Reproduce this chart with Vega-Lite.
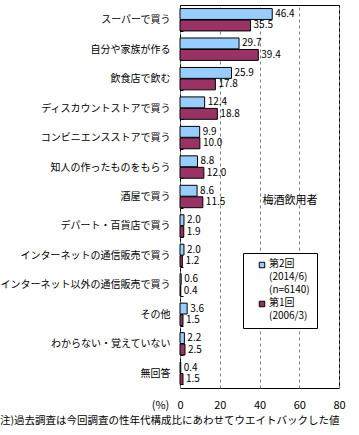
{
  "$schema": "https://vega.github.io/schema/vega-lite/v6.json",
  "width": 159,
  "height": 383,
  "autosize": {"type": "none"},
  "padding": {"left": 180, "top": 5, "right": 20, "bottom": 47},
  "config": {
    "font": "Noto Sans CJK JP",
    "view": {"stroke": "black", "strokeWidth": 1},
    "axis": {"labelColor": "black", "titleColor": "black"}
  },
  "title": {
    "text": "注)過去調査は今回調査の性年代構成比にあわせてウエイトバックした値",
    "orient": "bottom",
    "anchor": "start",
    "frame": "bounds",
    "fontSize": 10.5,
    "fontWeight": "normal",
    "offset": 6,
    "color": "black"
  },
  "encoding": {
    "y": {
      "field": "cat",
      "type": "nominal",
      "scale": {
        "domain": ["スーパーで買う", "自分や家族が作る", "飲食店で飲む", "ディスカウントストアで買う", "コンビニエンスストアで買う", "知人の作ったものをもらう", "酒屋で買う", "デパート・百貨店で買う", "インターネットの通信販売で買う", "インターネット以外の通信販売で買う", "その他", "わからない・覚えていない", "無回答"],
        "paddingInner": 0.24,
        "paddingOuter": 0.12
      },
      "axis": {
        "title": null,
        "domain": false,
        "ticks": true,
        "tickBand": "extent",
        "tickSize": -3,
        "tickColor": "black",
        "labelPadding": 13,
        "labelFontSize": 10,
        "labelLimit": 300
      }
    },
    "x": {
      "field": "value",
      "type": "quantitative",
      "scale": {"domain": [0, 80], "nice": false},
      "axis": {
        "values": [0, 20, 40, 60, 80],
        "tickCount": 5,
        "labelOverlap": false,
        "labelFlush": false,
        "grid": true,
        "gridDash": [3, 3],
        "gridColor": "#808080",
        "domain": false,
        "ticks": false,
        "labelPadding": 11,
        "labelFontSize": 11,
        "title": "(%)",
        "titleX": -20,
        "titleY": 17,
        "titleAlign": "center",
        "titleBaseline": "middle",
        "titleFontWeight": "normal",
        "titleFontSize": 11
      }
    }
  },
  "layer": [
    {
      "data": {
        "values": [
          {"cat": "スーパーで買う", "series": "第2回", "value": 46.4},
          {"cat": "スーパーで買う", "series": "第1回", "value": 35.5},
          {"cat": "自分や家族が作る", "series": "第2回", "value": 29.7},
          {"cat": "自分や家族が作る", "series": "第1回", "value": 39.4},
          {"cat": "飲食店で飲む", "series": "第2回", "value": 25.9},
          {"cat": "飲食店で飲む", "series": "第1回", "value": 17.8},
          {"cat": "ディスカウントストアで買う", "series": "第2回", "value": 12.4},
          {"cat": "ディスカウントストアで買う", "series": "第1回", "value": 18.8},
          {"cat": "コンビニエンスストアで買う", "series": "第2回", "value": 9.9},
          {"cat": "コンビニエンスストアで買う", "series": "第1回", "value": 10.0},
          {"cat": "知人の作ったものをもらう", "series": "第2回", "value": 8.8},
          {"cat": "知人の作ったものをもらう", "series": "第1回", "value": 12.0},
          {"cat": "酒屋で買う", "series": "第2回", "value": 8.6},
          {"cat": "酒屋で買う", "series": "第1回", "value": 11.5},
          {"cat": "デパート・百貨店で買う", "series": "第2回", "value": 2.0},
          {"cat": "デパート・百貨店で買う", "series": "第1回", "value": 1.9},
          {"cat": "インターネットの通信販売で買う", "series": "第2回", "value": 2.0},
          {"cat": "インターネットの通信販売で買う", "series": "第1回", "value": 1.2},
          {"cat": "インターネット以外の通信販売で買う", "series": "第2回", "value": 0.6},
          {"cat": "インターネット以外の通信販売で買う", "series": "第1回", "value": 0.4},
          {"cat": "その他", "series": "第2回", "value": 3.6},
          {"cat": "その他", "series": "第1回", "value": 1.5},
          {"cat": "わからない・覚えていない", "series": "第2回", "value": 2.2},
          {"cat": "わからない・覚えていない", "series": "第1回", "value": 2.5},
          {"cat": "無回答", "series": "第2回", "value": 0.4},
          {"cat": "無回答", "series": "第1回", "value": 1.5}
        ]
      },
      "encoding": {
        "yOffset": {
          "field": "series",
          "type": "nominal",
          "sort": ["第2回", "第1回"],
          "scale": {"paddingInner": 0.05}
        }
      },
      "layer": [
        {
          "mark": {"type": "bar", "stroke": "black", "strokeWidth": 1},
          "encoding": {
            "color": {
              "field": "series",
              "type": "nominal",
              "scale": {"domain": ["第2回", "第1回"], "range": ["#99CCFF", "#993366"]},
              "legend": {
                "title": null,
                "orient": "none",
                "legendX": 63,
                "legendY": 248,
                "symbolType": "square",
                "symbolSize": 30,
                "symbolStrokeColor": "black",
                "symbolStrokeWidth": 1,
                "symbolOpacity": 1,
                "symbolOffset": 7,
                "strokeColor": "black",
                "fillColor": "white",
                "padding": 7,
                "labelFontSize": 10,
                "labelColor": "black",
                "labelBaseline": "top",
                "labelOffset": 2,
                "rowPadding": 3,
                "labelExpr": "datum.label == '第2回' ? ['第2回', '(2014/6)', '(n=6140)'] : ['第1回', '(2006/3)']",
                "encode": {"labels": {"update": {"lineHeight": {"value": 13}, "dy": {"value": -6}}}}
              }
            }
          }
        },
        {
          "mark": {"type": "text", "align": "left", "baseline": "middle", "dx": 3, "fontSize": 10, "color": "black"},
          "encoding": {
            "text": {"field": "value", "type": "quantitative", "format": ".1f"}
          }
        }
      ]
    },
    {
      "data": {"values": [{"cat": "酒屋で買う", "value": 41.5, "label": "梅酒飲用者"}]},
      "mark": {"type": "text", "align": "left", "baseline": "middle", "dy": 4, "fontSize": 11, "color": "black"},
      "encoding": {
        "text": {"field": "label"}
      }
    }
  ]
}
